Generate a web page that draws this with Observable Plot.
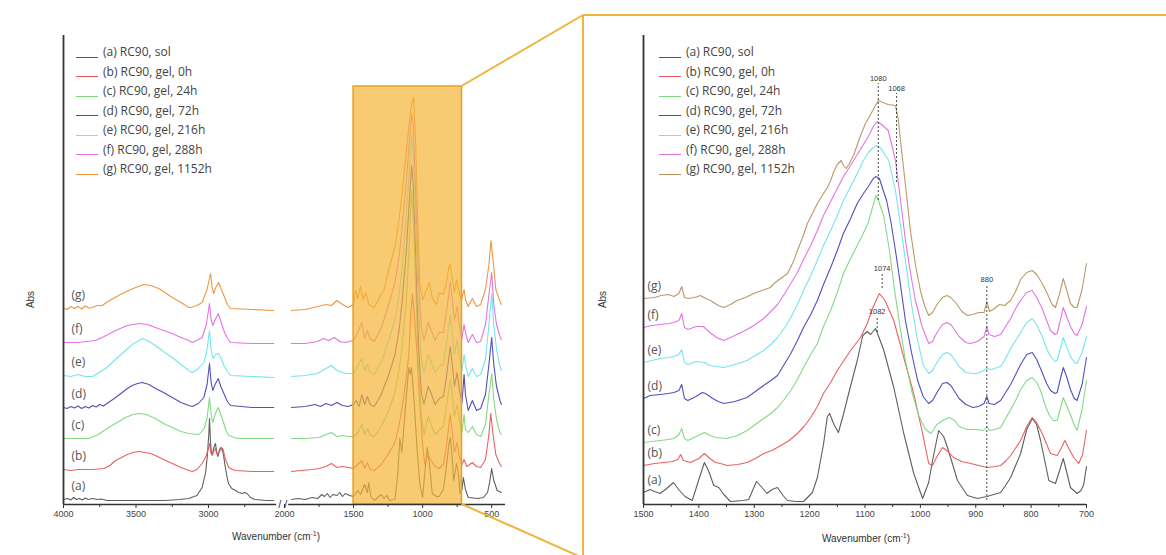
<!DOCTYPE html>
<html><head><meta charset="utf-8">
<script src="https://cdn.jsdelivr.net/npm/d3@7"></script>
<script src="https://cdn.jsdelivr.net/npm/@observablehq/plot@0.6"></script>
<style>
body{margin:0;background:#fff;}
#wrap{position:relative;width:1166px;height:555px;overflow:hidden;font-family:"Open Sans",sans-serif;background:#fff;}
.panel{position:absolute;top:0;}
.legend{position:absolute;font-size:12px;color:#444;}
.legend .row{display:flex;align-items:flex-end;height:19.5px;line-height:19.5px;}
.legend .sw{width:22px;height:0;border-top:1.3px solid;margin-right:5px;margin-bottom:4px;}
.abs{position:absolute;font-family:"Liberation Sans",Arial,sans-serif;font-size:10px;color:#333;transform:rotate(-90deg);transform-origin:center;}
.xt{position:absolute;font-family:"Liberation Sans",Arial,sans-serif;font-size:10px;color:#333;transform:translateX(-50%);white-space:nowrap;}
.xt sup{font-size:7px;}
#deco{position:absolute;left:0;top:0;pointer-events:none;}
</style></head>
<body><div id="wrap"></div>
<script>
// ---------------- DATA ----------------
const seriesKeys = ["a","b","c","d","e","f","g"];
const legendLabels = ["(a) RC90, sol","(b) RC90, gel, 0h","(c) RC90, gel, 24h","(d) RC90, gel, 72h","(e) RC90, gel, 216h","(f) RC90, gel, 288h","(g) RC90, gel, 1152h"];
const panelLabels = ["(a)","(b)","(c)","(d)","(e)","(f)","(g)"];
const leftColors = ["#555555","#e8585a","#7fd67f","#4646bb","#6fe3ee","#e26ee2","#ea913a"];
const rightColors = ["#555555","#e8585a","#7fd67f","#4646bb","#6fe3ee","#e26ee2","#b8925e"];

const leftTicks = [4000,3500,3000,2000,1500,1000,500];
const leftMinor = [3750,3250,2750,1750,1250,750];
const rightTicks = [1500,1400,1300,1200,1100,1000,900,800,700];
const rightMinor = [1450,1350,1250,1150,1050,950,850,750];
const axisBreak = [2500,2000];
const zoomRegion = [1500,715,418];   // highlighted wavenumber range and its top (a.u.)

// left panel, 4000-2550 cm-1 (offset absorbance, a.u.)
const hiA = [[4000,5],[3970,6],[3950,4.5],[3930,7],[3910,5],[3890,6],[3870,4.5],[3850,6.5],[3830,5],[3800,6],[3770,5],[3740,5.5],[3700,4],[3600,4],[3500,4],[3400,4],[3300,4],[3200,5],[3136,6],[3080,9],[3044,17],[3020,32],[3009,47],[2998,70],[2993,86],[2986,62],[2979,50],[2970,52],[2965,56],[2952,61],[2943,52],[2935,48],[2926,54],[2915,57],[2906,56],[2895,48],[2885,38],[2870,26],[2862,21],[2840,16],[2814,14],[2790,12],[2768,11],[2750,12],[2734,11],[2710,7],[2680,5],[2600,4],[2550,4]];
const hiB = [[4000,35],[3950,34],[3900,35],[3800,35],[3720,36],[3680,39],[3641,44],[3600,47],[3560,50],[3520,52],[3480,53],[3440,52],[3400,51],[3366,49],[3310,45],[3250,41],[3190,37],[3136,34],[3112,33],[3080,35],[3044,41],[3015,49],[3000,56],[2993,61],[2984,52],[2975,49],[2965,53],[2952,56],[2943,51],[2935,50],[2920,54],[2907,56],[2899,55],[2885,46],[2860,37],[2835,35],[2814,34],[2700,33],[2550,33]];
const hiC = [[4000,66],[3900,66],[3825,66],[3760,70],[3688,77],[3630,82],[3572,87],[3520,90],[3480,91],[3430,90],[3366,86],[3310,81],[3250,77],[3190,73],[3136,71],[3067,70],[3030,76],[3010,86],[2993,107],[2982,90],[2970,82],[2955,90],[2933,97],[2915,90],[2894,81],[2878,73],[2860,69],[2800,66],[2700,66],[2550,66]];
const hiD = [[4000,97],[3975,96],[3950,98],[3925,96.5],[3900,98.5],[3875,96],[3850,98],[3825,96.5],[3800,99],[3775,97.5],[3750,100],[3725,98.5],[3700,101],[3650,106],[3595,112],[3560,116],[3526,119],[3490,121],[3457,122],[3410,120],[3366,116],[3310,112],[3250,107],[3190,102],[3136,99],[3112,98],[3070,101],[3032,107],[3010,120],[2993,141],[2982,122],[2970,114],[2955,120],[2933,126],[2915,118],[2894,111],[2870,103],[2848,99],[2700,97],[2550,97]];
const hiE = [[4000,129],[3950,128],[3900,130],[3850,128],[3800,128],[3700,137],[3650,144],[3595,151],[3526,160],[3457,166],[3410,163],[3366,159],[3310,153],[3250,147],[3190,140],[3136,134],[3112,132],[3070,136],[3032,142],[3010,155],[2993,174],[2982,155],[2970,146],[2950,150],[2930,151],[2912,146],[2894,139],[2870,133],[2848,129],[2700,128],[2550,127]];
const hiF = [[4000,162],[3900,162],[3780,164],[3720,168],[3641,174],[3560,179],[3480,181],[3420,180],[3366,177],[3310,174],[3250,171],[3190,167],[3136,164],[3112,162],[3080,164],[3044,167],[3015,180],[2993,201],[2982,185],[2970,179],[2950,186],[2933,191],[2915,183],[2894,174],[2870,166],[2848,162],[2700,161],[2550,161]];
const hiG = [[4000,196],[3975,195],[3950,198],[3925,196],[3900,198],[3875,195.5],[3850,198.5],[3825,196.5],[3800,197],[3770,199],[3734,199],[3670,205],[3595,211],[3520,216],[3446,220],[3400,219],[3343,216],[3300,212],[3250,207],[3190,202],[3136,197],[3120,197],[3080,199],[3044,202],[3010,215],[2986,231],[2975,218],[2965,211],[2950,217],[2930,222],[2912,215],[2894,209],[2870,200],[2848,196],[2700,195],[2550,194]];

// left panel, 1950-430 cm-1
const loA = [[1950,5],[1900,6],[1850,5],[1800,7],[1760,6],[1730,10],[1710,8],[1690,11],[1670,7],[1650,10],[1620,9],[1600,12],[1580,8],[1560,11],[1530,9],[1500,8],[1470,14],[1450,10],[1420,20],[1400,12],[1390,22],[1375,8],[1350,4],[1300,10],[1280,6],[1260,9],[1240,4],[1200,5],[1180,30],[1165,66],[1150,52],[1120,105],[1100,137],[1090,130],[1080,137],[1060,100],[1040,55],[1020,20],[1000,7],[985,30],[967,57],[950,40],[930,11],[900,8],[880,8],[850,15],[830,35],[810,60],[800,67],[785,45],[775,24],[755,41],[740,30],[730,11],[715,15],[705,27],[690,15],[670,7],[600,6],[560,7],[530,12],[515,22],[500,36],[485,24],[460,14],[430,12]];
const loB = [[1950,33],[1880,34],[1800,35],[1750,36],[1700,38],[1660,41],[1620,37],[1580,38],[1540,37],[1500,36],[1470,40],[1440,44],[1420,36],[1400,42],[1380,35],[1350,34],[1300,40],[1250,50],[1200,62],[1170,80],[1150,95],[1120,125],[1100,150],[1085,190],[1074,211],[1060,190],[1040,150],[1020,100],[1000,60],[985,40],[960,50],[940,44],[910,38],[880,36],[850,40],[830,55],[810,80],[800,90],[785,72],[770,52],[750,62],[735,48],[715,40],[700,45],[680,38],[640,42],[610,38],[580,37],[545,45],[520,70],[507,91],[490,70],[470,50],[440,40],[430,38]];
const loC = [[1950,66],[1850,66],[1750,67],[1700,70],[1660,72],[1620,68],[1580,69],[1540,68],[1500,68],[1470,72],[1440,80],[1420,70],[1400,76],[1380,70],[1350,68],[1300,78],[1250,92],[1200,112],[1170,135],[1150,155],[1120,200],[1100,250],[1080,314],[1068,290],[1050,220],[1030,140],[1010,90],[990,70],[960,88],[940,80],[910,70],[880,74],[850,78],[830,95],[800,125],[785,110],[770,88],[750,100],[735,85],[715,72],[700,90],[690,75],[670,72],[640,78],[610,70],[580,68],[545,80],[520,110],[500,131],[485,105],[465,85],[440,72],[430,70]];
const loD = [[1950,97],[1850,98],[1780,100],[1740,98],[1700,101],[1660,99],[1620,102],[1580,99],[1540,98],[1500,100],[1480,104],[1460,98],[1440,110],[1420,100],[1400,108],[1380,100],[1350,98],[1300,110],[1250,128],[1200,150],[1170,175],[1150,200],[1120,250],[1100,295],[1080,339],[1068,320],[1050,250],[1030,160],[1010,112],[990,100],[960,118],[940,112],[910,100],[880,106],[850,108],[830,125],[800,158],[785,140],[770,118],[750,132],[735,115],[715,102],[700,130],[690,110],[670,94],[640,104],[610,94],[580,96],[545,110],[520,140],[500,167],[485,140],[465,118],[440,104],[430,100]];
const loE = [[1950,128],[1850,129],[1760,131],[1700,136],[1660,139],[1620,134],[1580,132],[1540,131],[1500,131],[1470,138],[1440,146],[1420,134],[1400,140],[1380,132],[1350,130],[1300,142],[1250,162],[1200,185],[1170,210],[1150,235],[1120,285],[1100,325],[1080,369],[1068,350],[1050,280],[1030,195],[1010,145],[990,132],[960,150],[940,143],[910,132],[880,138],[850,140],[830,158],[800,190],[785,172],[770,150],[750,165],[735,148],[715,134],[700,150],[690,140],[670,128],[640,136],[610,128],[580,130],[545,145],[520,180],[500,211],[485,180],[465,155],[440,138],[430,134]];
const loF = [[1950,161],[1850,161],[1760,163],[1720,166],[1680,164],[1640,167],[1600,163],[1560,162],[1500,164],[1470,172],[1440,182],[1420,166],[1400,174],[1380,166],[1350,163],[1300,176],[1250,198],[1200,222],[1170,248],[1150,275],[1120,320],[1100,355],[1080,391],[1068,380],[1050,310],[1030,225],[1010,178],[990,164],[960,182],[940,175],[910,164],[880,172],[850,172],[830,190],[800,222],[785,205],[770,184],[750,198],[735,180],[715,166],[700,180],[690,172],[670,162],[640,170],[610,162],[580,163],[545,180],[520,210],[500,232],[485,200],[465,180],[440,168],[430,165]];
const loG = [[1950,194],[1850,195],[1760,198],[1700,200],[1660,199],[1620,204],[1580,200],[1540,197],[1500,200],[1485,214],[1470,206],[1450,218],[1430,205],[1410,212],[1390,200],[1350,197],[1300,210],[1280,214],[1250,232],[1200,258],[1170,285],[1150,310],[1120,350],[1100,378],[1080,400],[1065,407],[1050,360],[1035,280],[1020,220],[1000,205],[970,215],[950,222],[930,206],[900,200],[880,212],[850,210],[830,220],[810,238],[800,240],[785,225],[770,212],[755,225],[740,215],[720,204],[700,215],[690,205],[670,198],[640,206],[610,198],[580,200],[545,215],[520,240],[505,264],[490,245],[470,215],[445,205],[430,200]];

// right panel, 1500-700 cm-1
const rA = [[1500,12],[1488,15],[1480,13],[1470,11],[1458,16],[1446,22],[1435,14],[1425,8],[1412,4],[1400,25],[1390,42],[1382,33],[1373,19],[1364,17],[1355,10],[1343,3],[1320,4],[1310,5],[1296,23],[1286,17],[1277,11],[1268,15],[1258,17],[1248,9],[1240,4],[1225,3],[1211,3],[1195,12],[1186,27],[1175,60],[1168,88],[1164,91],[1156,80],[1148,72],[1138,92],[1130,110],[1114,144],[1104,169],[1096,173],[1090,170],[1081,176],[1074,166],[1066,154],[1048,117],[1030,71],[1012,31],[996,6],[985,22],[978,44],[967,74],[958,68],[951,57],[933,24],[915,9],[897,6],[880,8],[855,12],[845,20],[837,27],[819,51],[808,75],[798,86],[790,80],[783,64],[768,24],[756,21],[748,35],[742,46],[736,33],[729,17],[717,11],[710,14],[705,20],[700,38]];
const rB = [[1500,39],[1490,40],[1480,41],[1464,42],[1448,43],[1438,45],[1433,50],[1428,44],[1415,42],[1400,46],[1390,51],[1380,46],[1370,42],[1361,41],[1349,39],[1330,40],[1313,42],[1298,46],[1283,51],[1268,54],[1252,59],[1237,64],[1222,71],[1210,78],[1198,87],[1186,98],[1175,111],[1162,122],[1150,134],[1138,144],[1126,154],[1108,167],[1096,181],[1085,198],[1074,211],[1064,204],[1048,184],[1030,147],[1012,111],[996,71],[985,41],[978,39],[970,48],[960,57],[950,53],[940,47],[925,43],[909,41],[895,39],[879,37],[865,38],[855,39],[845,44],[837,49],[819,64],[808,78],[798,87],[790,82],[780,71],[765,51],[753,49],[746,56],[739,64],[731,55],[723,47],[714,41],[707,50],[700,74]];
const rC = [[1500,62],[1485,63],[1470,64],[1455,65],[1445,66],[1436,70],[1431,76],[1426,66],[1420,64],[1405,68],[1390,72],[1380,69],[1370,67],[1349,66],[1330,69],[1313,74],[1298,80],[1283,86],[1270,91],[1258,97],[1246,105],[1234,114],[1222,125],[1211,137],[1198,150],[1186,161],[1175,178],[1162,194],[1150,212],[1139,231],[1126,246],[1114,259],[1104,270],[1094,282],[1086,298],[1080,309],[1075,303],[1066,288],[1056,255],[1048,220],[1038,182],[1027,144],[1015,112],[1003,89],[992,76],[981,71],[970,80],[960,84],[948,87],[938,84],[930,78],[915,75],[900,75],[886,74],[880,78],[875,74],[865,75],[855,77],[846,86],[837,95],[828,104],[819,115],[808,124],[798,127],[790,122],[783,114],[775,100],[768,90],[760,84],[753,84],[747,96],[742,107],[736,99],[729,90],[722,79],[717,74],[708,95],[700,124]];
const rD = [[1500,106],[1488,109],[1470,110],[1455,111],[1445,112],[1436,114],[1431,120],[1426,106],[1420,104],[1405,108],[1394,112],[1388,111],[1375,106],[1365,103],[1355,101],[1335,103],[1313,107],[1298,113],[1283,119],[1270,124],[1258,129],[1246,140],[1234,151],[1222,164],[1211,177],[1198,190],[1186,204],[1175,220],[1162,237],[1150,254],[1139,271],[1126,286],[1114,301],[1104,310],[1094,318],[1085,326],[1080,328],[1074,326],[1067,314],[1061,304],[1053,282],[1045,254],[1036,220],[1027,184],[1016,152],[1005,124],[995,108],[985,101],[978,104],[970,112],[960,121],[952,122],[945,119],[930,106],[918,100],[905,97],[895,98],[885,101],[880,108],[876,101],[866,100],[855,104],[846,112],[837,120],[828,130],[819,140],[808,150],[798,152],[790,145],[780,132],[772,121],[765,114],[757,111],[753,112],[747,126],[742,137],[736,128],[729,115],[722,106],[717,104],[708,120],[700,147]];
const rE = [[1500,142],[1485,144],[1470,146],[1455,147],[1445,148],[1436,150],[1431,155],[1426,142],[1420,140],[1405,143],[1390,142],[1380,139],[1368,138],[1355,137],[1335,140],[1313,144],[1298,149],[1283,154],[1270,160],[1258,167],[1246,176],[1234,187],[1222,200],[1211,214],[1198,229],[1186,244],[1175,259],[1162,274],[1150,289],[1139,304],[1126,318],[1114,331],[1104,343],[1094,352],[1085,357],[1078,359],[1070,355],[1057,344],[1045,314],[1036,280],[1027,244],[1016,200],[1005,164],[995,140],[985,131],[978,134],[970,142],[960,150],[952,152],[945,150],[930,138],[918,132],[905,131],[897,131],[885,134],[880,136],[872,135],[855,138],[846,146],[837,156],[828,164],[819,172],[808,182],[798,186],[790,180],[780,168],[772,156],[765,148],[757,143],[753,144],[747,156],[742,167],[736,158],[729,148],[722,142],[717,141],[708,152],[700,168]];
const rF = [[1500,177],[1485,179],[1470,180],[1455,181],[1445,182],[1436,184],[1431,191],[1426,177],[1420,175],[1405,178],[1392,178],[1380,172],[1368,167],[1355,164],[1335,169],[1313,175],[1298,180],[1283,186],[1270,193],[1258,200],[1246,210],[1234,221],[1222,232],[1211,245],[1198,259],[1186,274],[1175,289],[1162,303],[1150,316],[1139,328],[1126,339],[1114,350],[1104,359],[1094,368],[1085,378],[1078,383],[1070,380],[1058,374],[1045,344],[1036,305],[1027,264],[1018,232],[1009,204],[997,178],[985,161],[978,163],[970,172],[960,180],[952,182],[945,180],[930,168],[918,162],[910,161],[897,163],[885,168],[880,178],[876,170],[866,168],[855,170],[846,178],[837,186],[828,196],[819,204],[808,212],[798,214],[790,207],[780,196],[772,184],[765,174],[757,170],[753,171],[747,185],[742,197],[736,188],[729,178],[722,171],[717,169],[708,180],[700,198]];
const rG = [[1500,206],[1480,207],[1468,209],[1455,210],[1445,208],[1436,211],[1431,218],[1426,207],[1420,206],[1408,207],[1397,209],[1388,206],[1379,204],[1365,199],[1355,197],[1343,200],[1331,204],[1316,207],[1301,211],[1286,214],[1271,217],[1262,222],[1255,225],[1240,231],[1230,242],[1222,254],[1212,268],[1204,281],[1195,291],[1186,301],[1176,310],[1168,317],[1162,324],[1157,332],[1150,340],[1143,344],[1139,339],[1134,336],[1128,341],[1120,350],[1110,366],[1100,380],[1088,392],[1076,404],[1068,402],[1058,400],[1045,399],[1040,386],[1036,364],[1027,320],[1018,274],[1009,240],[1000,214],[992,198],[985,189],[978,192],[970,200],[960,207],[952,209],[945,207],[935,201],[925,193],[915,189],[905,190],[895,192],[885,192],[880,203],[875,193],[866,196],[857,200],[848,199],[837,204],[828,213],[819,225],[808,232],[798,234],[790,230],[780,221],[770,210],[762,200],[756,197],[749,210],[742,226],[736,215],[729,201],[722,197],[717,197],[708,215],[700,241]];

// peak annotations (right panel)
const peakLabels = ["1080","1068","1074","1082","880"];
const peakWn = [1076,1043,1069,1078,880];
const peakTop = [421,411,231,188,220];
const peakBottom = [304,322,216,172,4];

const hiSeries = [hiA,hiB,hiC,hiD,hiE,hiF,hiG];
const loSeries = [loA,loB,loC,loD,loE,loF,loG];
const rSeries = [rA,rB,rC,rD,rE,rF,rG];

// ---------------- DRAW ----------------
const wrap = document.getElementById("wrap");
const yScale = {domain:[0,469], range:[504,35]};
const tickStyle = {fontSize: 9, fontFamily: "Liberation Sans, Arial, sans-serif", fill: "#444", stroke: "#333", tickFormat: d => String(d), label: null};

function lines(arrs, cols){
  return arrs.map((d,i)=>Plot.line(d,{x:p=>p[0], y:p=>p[1], stroke:cols[i], strokeWidth:1.1, strokeOpacity:0.95}));
}
function labels(arrs, dx, dy){
  return Plot.text(arrs.map((d,i)=>({x:d[0][0], y:d[0][1], t:panelLabels[i]})),
    {x:"x", y:"y", text:"t", textAnchor:"start", dx, dy, fontSize:12, fontFamily:"Open Sans, sans-serif", fill:"#555"});
}

const left = Plot.plot({
  width: 580, height: 555, marginTop: 35, marginBottom: 51, marginLeft: 63, marginRight: 75,
  style: {background: "transparent", overflow: "visible"},
  x: {type:"linear", domain:[4000,axisBreak[0],axisBreak[1],400], range:[63,280.5,284,505], axis:null},
  y: {...yScale, axis:null},
  marks: [
    ...lines(hiSeries, leftColors),
    ...lines(loSeries, leftColors),
    Plot.rect([zoomRegion], {x1:d=>d[0], x2:d=>d[1], y1:0, y2:d=>d[2], fill:"#f5b335", fillOpacity:0.7, stroke:"#e8a024", strokeWidth:1.5}),
    labels(hiSeries, 8, -13),
    Plot.ruleY([0], {x1:4000, x2:axisBreak[0]+30, stroke:"#333", strokeWidth:1.6}),
    Plot.ruleY([0], {x1:axisBreak[1]-30, x2:400, stroke:"#333", strokeWidth:1.6}),
    Plot.text([axisBreak], {x:d=>(d[0]+d[1])/2, y:0, text:()=>"/ /", fontSize:11, fill:"#333", fontFamily:"Liberation Sans, sans-serif"}),
    Plot.ruleX([4000], {y1:0, y2:469, stroke:"#333", strokeWidth:1.8}),
    Plot.axisX({ticks:leftTicks, tickSize:4, tickPadding:2, ...tickStyle}),
    Plot.axisX({ticks:leftMinor, tickSize:3, tickFormat:()=>"", stroke:"#333", label:null})
  ]
});
left.classList.add("panel"); left.style.left = "0px";
wrap.appendChild(left);

const right = Plot.plot({
  width: 583, height: 555, marginTop: 35, marginBottom: 51, marginLeft: 60, marginRight: 80,
  style: {background: "transparent", overflow: "visible"},
  x: {domain:[1500,700], range:[60,503], axis:null},
  y: {...yScale, axis:null},
  marks: [
    ...lines(rSeries, rightColors),
    Plot.ruleX(peakWn.map((w,i)=>({w, top:peakTop[i], bot:peakBottom[i]})), {x:"w", y1:"bot", y2:"top", stroke:"#333", strokeWidth:0.9, strokeDasharray:"2,2"}),
    Plot.text(peakWn.map((w,i)=>({w, top:peakTop[i], t:peakLabels[i]})), {x:"w", y:"top", text:"t", dy:-5, fontSize:7.5, fill:"#333", fontFamily:"Liberation Sans, Arial, sans-serif"}),
    labels(rSeries, 4, -12),
    Plot.ruleY([0], {x1:1500, x2:700, stroke:"#333", strokeWidth:1.6}),
    Plot.ruleX([1500], {y1:0, y2:469, stroke:"#333", strokeWidth:1.8}),
    Plot.axisX({ticks:rightTicks, tickSize:4, tickPadding:2, ...tickStyle}),
    Plot.axisX({ticks:rightMinor, tickSize:3, tickFormat:()=>"", stroke:"#333", label:null})
  ]
});
right.classList.add("panel"); right.style.left = "583px";
wrap.appendChild(right);

// frame of zoomed panel + connector lines, anchored to the scales
const xl = left.scale("x"), yl = left.scale("y");
const ns = "http://www.w3.org/2000/svg";
const deco = document.createElementNS(ns, "svg");
deco.setAttribute("id","deco"); deco.setAttribute("width",1166); deco.setAttribute("height",555);
const frameX = 583, frameY = 15;
const segs = [
  [xl.apply(zoomRegion[1]), yl.apply(zoomRegion[2]), frameX, frameY],
  [xl.apply(zoomRegion[1]), yl.apply(0), frameX, 558],
  [frameX, frameY, frameX, 560],
  [frameX, frameY, 1170, frameY]
];
segs.forEach(s=>{
  const l = document.createElementNS(ns,"line");
  l.setAttribute("x1",s[0]); l.setAttribute("y1",s[1]); l.setAttribute("x2",s[2]); l.setAttribute("y2",s[3]);
  l.setAttribute("stroke","#efb43a"); l.setAttribute("stroke-width",2);
  deco.appendChild(l);
});
wrap.appendChild(deco);

// legends
function legend(x, cols){
  const div = document.createElement("div");
  div.className = "legend"; div.style.left = x + "px"; div.style.top = "42px";
  legendLabels.forEach((t,i)=>{
    const r = document.createElement("div"); r.className = "row";
    const sw = document.createElement("span"); sw.className = "sw"; sw.style.borderTopColor = cols[i];
    const tx = document.createElement("span"); tx.textContent = t;
    r.appendChild(sw); r.appendChild(tx); div.appendChild(r);
  });
  wrap.appendChild(div);
}
legend(76, leftColors);
legend(659, rightColors);

// axis titles
function addText(cls, html, x, y){
  const d = document.createElement("div"); d.className = cls; d.innerHTML = html;
  d.style.left = x + "px"; d.style.top = y + "px"; wrap.appendChild(d);
}
addText("abs", "Abs", 22, 294);
addText("abs", "Abs", 594, 294);
addText("xt", "Wavenumber (cm<sup>-1</sup>)", 276, 530);
addText("xt", "Wavenumber (cm<sup>-1</sup>)", 866, 532);
</script></body></html>
